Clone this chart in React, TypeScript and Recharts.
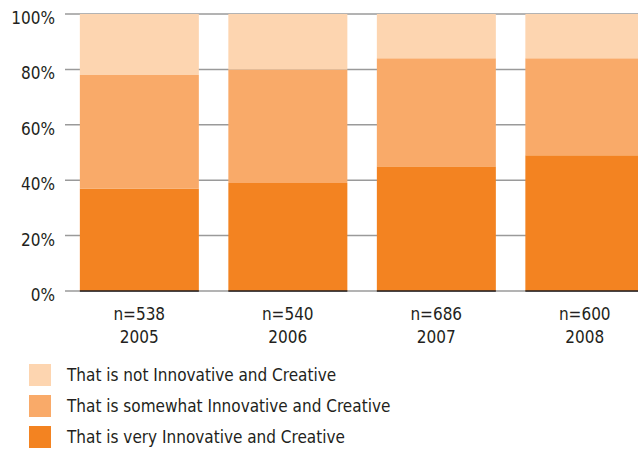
import { BarChart, Bar, XAxis, YAxis, CartesianGrid, Legend } from "recharts";

const years = ["2005", "2006", "2007", "2008"];
const sampleSizes = ["n=538", "n=540", "n=686", "n=600"];
const veryCreative = [37, 39, 45, 49];
const somewhatCreative = [41, 41, 39, 35];
const notCreative = [22, 20, 16, 16];
const yTicks = [0, 20, 40, 60, 80, 100];

const seriesNames = [
  "That is not Innovative and Creative",
  "That is somewhat Innovative and Creative",
  "That is very Innovative and Creative"
];
const seriesColors = ["#FDD5B0", "#F9AA69", "#F38321"];

const FONT = "'Liberation Sans Narrow', 'DejaVu Sans Condensed', sans-serif";
const TEXT = "#231F20";

const data = years.map((year, i) => ({
  year,
  n: sampleSizes[i],
  very: veryCreative[i],
  somewhat: somewhatCreative[i],
  not: notCreative[i]
}));

function YTick(props: any) {
  const { x, y, payload } = props;
  return (
    <text x={x} y={y + 10} textAnchor="end" fontSize={17} fill={TEXT} fontFamily={FONT}>
      {payload.value}%
    </text>
  );
}

function XTick(props: any) {
  const { x, y, payload, index } = props;
  return (
    <g>
      <text x={x} y={y + 21} textAnchor="middle" fontSize={17} fill={TEXT} fontFamily={FONT}>
        {sampleSizes[index]}
      </text>
      <text x={x} y={y + 44} textAnchor="middle" fontSize={17} fill={TEXT} fontFamily={FONT}>
        {payload.value}
      </text>
    </g>
  );
}

function BaseBar(props: any) {
  const { x, y, width, height, fill } = props;
  return (
    <g>
      <rect x={x} y={y} width={width} height={height} fill={fill} />
      <line x1={x} x2={x + width} y1={y + height} y2={y + height} stroke="#231F20" strokeWidth={1.5} />
    </g>
  );
}

function LegendBox() {
  return (
    <div style={{ fontFamily: FONT, fontSize: 17, color: TEXT }}>
      {seriesNames.map((name, i) => (
        <div key={name} style={{ display: "flex", alignItems: "center", height: 31 }}>
          <div style={{ width: 22, height: 22, background: seriesColors[i], marginRight: 16 }} />
          <span>{name}</span>
        </div>
      ))}
    </div>
  );
}

export default function App() {
  return (
    <div style={{ position: "absolute", left: 0, top: 0, width: 638, height: 449, overflow: "hidden", background: "#fff" }}>
      <BarChart
        width={700}
        height={449}
        data={data}
        margin={{ top: 14, right: 41, left: 0, bottom: 98 }}
        barCategoryGap="10%"
      >
        <CartesianGrid vertical={false} stroke="#9a9a9a" strokeWidth={1.5} />
        <XAxis dataKey="year" axisLine={false} tickLine={false} height={60} tick={<XTick />} interval={0} />
        <YAxis
          domain={[0, 100]}
          ticks={yTicks}
          width={65}
          axisLine={false}
          tickLine={false}
          tickSize={0}
          tickMargin={10}
          tick={<YTick />}
          interval={0}
        />
        <Legend
          layout="horizontal"
          verticalAlign="middle"
          wrapperStyle={{ position: "absolute", left: 29, top: 359, width: 500 }}
          content={() => <LegendBox />}
        />
        <Bar dataKey="very" stackId="a" fill={seriesColors[2]} isAnimationActive={false} shape={<BaseBar />} />
        <Bar dataKey="somewhat" stackId="a" fill={seriesColors[1]} isAnimationActive={false} />
        <Bar dataKey="not" stackId="a" fill={seriesColors[0]} isAnimationActive={false} />
      </BarChart>
    </div>
  );
}
